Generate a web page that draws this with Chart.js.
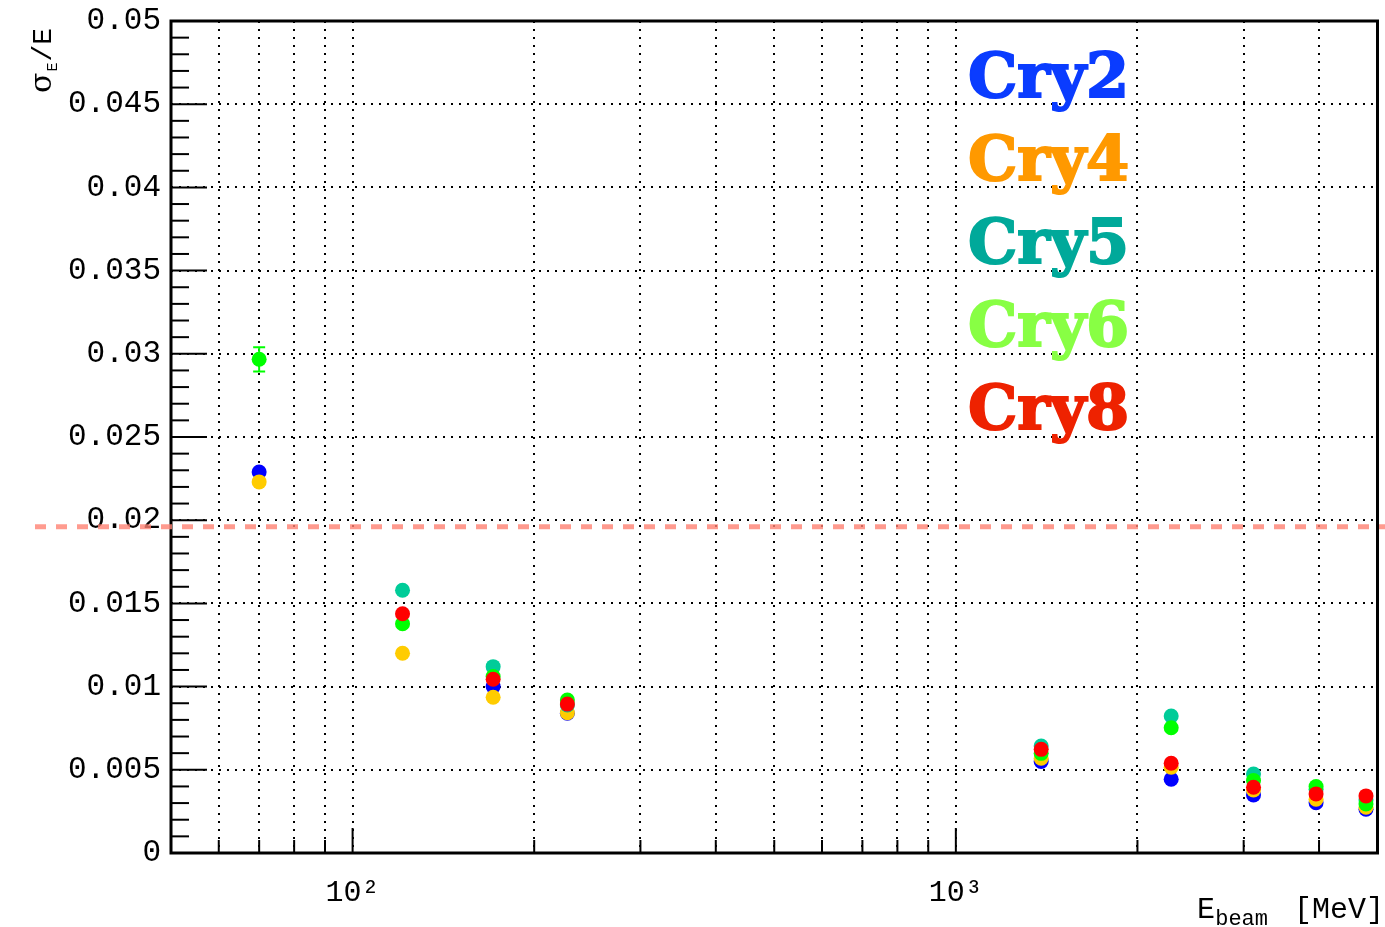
<!DOCTYPE html>
<html>
<head>
<meta charset="utf-8">
<script src="https://cdn.jsdelivr.net/npm/chart.js@4"></script>
<style>
  html, body { margin: 0; padding: 0; background: #fff; }
  #wrap { width: 1385px; height: 927px; }
</style>
</head>
<body>
<div id="wrap"><canvas id="c" width="1385" height="927"></canvas></div>
<script>
// Beam energies [MeV]
const energies = [70, 121, 171, 227, 1385, 2275, 3115, 3955, 4785];

// Relative energy resolution sigma_E / E for each crystal
const cry2 = [0.0229, null, 0.0100, 0.0084, 0.0055, 0.00443, 0.00349, 0.00302, 0.00263];
const cry4 = [0.0223, 0.0120, 0.00936, 0.00843, 0.00569, 0.00515, 0.00379, 0.00323, 0.00275];
const cry5 = [null, 0.01579, 0.0112, 0.0089, 0.00643, 0.00823, 0.00475, 0.00383, 0.00319];
const cry6 = [0.02967, 0.01378, 0.0106, 0.00919, 0.00599, 0.00753, 0.00435, 0.00399, 0.00295];
const cry8 = [null, 0.01438, 0.01044, 0.00895, 0.00623, 0.00539, 0.00395, 0.00355, 0.00343];
const cry6Err = [0.00073, 0, 0, 0, 0, 0, 0, 0, 0];

const seriesNames = ['Cry2', 'Cry4', 'Cry5', 'Cry6', 'Cry8'];
const markerColors = ['#0000ff', '#ffcc00', '#00cc99', '#00ff00', '#ff0000'];
const legendColors = ['#0a3cff', '#ff9900', '#00a99a', '#88ff44', '#ee2200'];

// Axis ticks
const yTicks = [0, 0.005, 0.01, 0.015, 0.02, 0.025, 0.03, 0.035, 0.04, 0.045, 0.05];
const yTickLabels = ['0', '0.005', '0.01', '0.015', '0.02', '0.025', '0.03', '0.035', '0.04', '0.045', '0.05'];
const xTicks = [60, 70, 80, 90, 100, 200, 300, 400, 500, 600, 700, 800, 900, 1000, 2000, 3000, 4000];
const xTickLabels = { 100: '10²', 1000: '10³' };

// Reference resolution level
const targetLevel = 0.0196;

const allSeries = [cry2, cry4, cry5, cry6, cry8];
const datasets = allSeries.map((vals, i) => ({
  label: seriesNames[i],
  data: energies.map((e, k) => ({ x: e, y: vals[k] })),
  backgroundColor: markerColors[i],
  borderColor: markerColors[i],
  borderWidth: 0,
  pointRadius: 7.5,
  pointHoverRadius: 7.5,
  showLine: false,
  order: 5 - i
}));

const MONO = "'Liberation Mono', 'DejaVu Sans Mono', monospace";

// keep the plot frame exactly where the layout padding puts it
function noScalePadding(scale) {
  scale.paddingTop = 0;
  scale.paddingBottom = 0;
  scale.paddingLeft = 0;
  scale.paddingRight = 0;
}

const decorations = {
  id: 'decorations',
  beforeDatasetsDraw(chart) {
    const { ctx, chartArea: a, scales: { x, y } } = chart;
    ctx.save();
    ctx.strokeStyle = '#000';
    ctx.lineWidth = 2;
    // y-axis tick marks, pointing into the frame
    for (let i = 0; i <= 50; i++) {
      const v = i / 1000;
      const py = y.getPixelForValue(v);
      const len = (i % 5 === 0) ? 36 : 18;
      ctx.beginPath();
      ctx.moveTo(a.left, py);
      ctx.lineTo(a.left + len, py);
      ctx.stroke();
    }
    // x-axis tick marks
    xTicks.forEach(v => {
      const px = x.getPixelForValue(v);
      const len = (v === 100 || v === 1000) ? 25 : 13;
      ctx.beginPath();
      ctx.moveTo(px, a.bottom);
      ctx.lineTo(px, a.bottom - len);
      ctx.stroke();
    });
    // error bars
    ctx.strokeStyle = markerColors[3];
    ctx.lineWidth = 2;
    energies.forEach((e, k) => {
      const err = cry6Err[k];
      if (!err || cry6[k] == null) return;
      const px = x.getPixelForValue(e);
      const top = y.getPixelForValue(cry6[k] + err);
      const bot = y.getPixelForValue(cry6[k] - err);
      ctx.beginPath();
      ctx.moveTo(px, top); ctx.lineTo(px, bot);
      ctx.moveTo(px - 6, top); ctx.lineTo(px + 6, top);
      ctx.moveTo(px - 6, bot); ctx.lineTo(px + 6, bot);
      ctx.stroke();
    });
    ctx.restore();
  },
  afterDraw(chart) {
    const { ctx, chartArea: a, scales: { y } } = chart;
    ctx.save();
    // frame
    ctx.strokeStyle = '#000';
    ctx.lineWidth = 3;
    ctx.strokeRect(a.left, a.top, a.right - a.left, a.bottom - a.top);

    // legend text
    ctx.textBaseline = 'alphabetic';
    ctx.textAlign = 'left';
    ctx.font = "bold 62px 'DejaVu Serif', serif";
    seriesNames.forEach((n, i) => {
      ctx.fillStyle = legendColors[i];
      ctx.strokeStyle = legendColors[i];
      ctx.lineWidth = 2;
      const by = 97 + i * 83;
      ctx.fillText(n, 968, by);
      ctx.strokeText(n, 968, by);
    });

    // y-axis title, rotated
    ctx.save();
    ctx.translate(51, 93);
    ctx.rotate(-Math.PI / 2);
    ctx.fillStyle = '#000';
    ctx.font = "30px 'DejaVu Serif', serif";
    ctx.fillText('σ', 0, 0);
    let w = ctx.measureText('σ').width;
    ctx.font = "15px " + MONO;
    ctx.fillText('E', w + 1, 6);
    w += 11;
    ctx.font = "28px " + MONO;
    ctx.fillText('/E', w, 0);
    ctx.restore();

    // x-axis title
    ctx.fillStyle = '#000';
    ctx.textAlign = 'right';
    ctx.font = "30px " + MONO;
    ctx.fillText('[MeV]', 1384, 918);
    ctx.font = "22px " + MONO;
    ctx.fillText('beam', 1268, 925);
    ctx.font = "30px " + MONO;
    ctx.fillText('E', 1215, 918);

    // dashed reference level across the pad
    const ty = y.getPixelForValue(targetLevel);
    ctx.strokeStyle = 'rgba(255, 130, 115, 0.8)';
    ctx.lineWidth = 5;
    ctx.setLineDash([11, 10]);
    ctx.beginPath();
    ctx.moveTo(35, ty);
    ctx.lineTo(chart.width, ty);
    ctx.stroke();
    ctx.restore();
  }
};

new Chart(document.getElementById('c'), {
  type: 'scatter',
  data: { datasets },
  options: {
    responsive: false,
    animation: false,
    devicePixelRatio: 1,
    layout: { padding: { left: 0, right: 0, top: 21, bottom: 0 } },
    plugins: { legend: { display: false }, tooltip: { enabled: false } },
    scales: {
      x: {
        type: 'logarithmic',
        min: 50,
        max: 5000,
        afterBuildTicks(scale) { scale.ticks = xTicks.map(v => ({ value: v })); },
        afterFit(scale) { scale.height = 74; noScalePadding(scale); },
        grid: { color: '#000', lineWidth: 2, drawTicks: false },
        border: { display: false, dash: [2, 6] },
        ticks: {
          autoSkip: false,
          maxRotation: 0,
          padding: 22,
          color: '#000',
          font: { family: MONO, size: 30 },
          callback: (v) => xTickLabels[v] || ''
        }
      },
      y: {
        min: 0,
        max: 0.05,
        afterBuildTicks(scale) { scale.ticks = yTicks.map(v => ({ value: v })); },
        afterFit(scale) { scale.width = 171; noScalePadding(scale); },
        grid: { color: '#000', lineWidth: 2, drawTicks: false },
        border: { display: false, dash: [2, 6] },
        ticks: {
          autoSkip: false,
          padding: 10,
          color: '#000',
          font: { family: MONO, size: 31 },
          callback: (v, i) => yTickLabels[i]
        }
      }
    }
  },
  plugins: [decorations]
});
</script>
</body>
</html>
